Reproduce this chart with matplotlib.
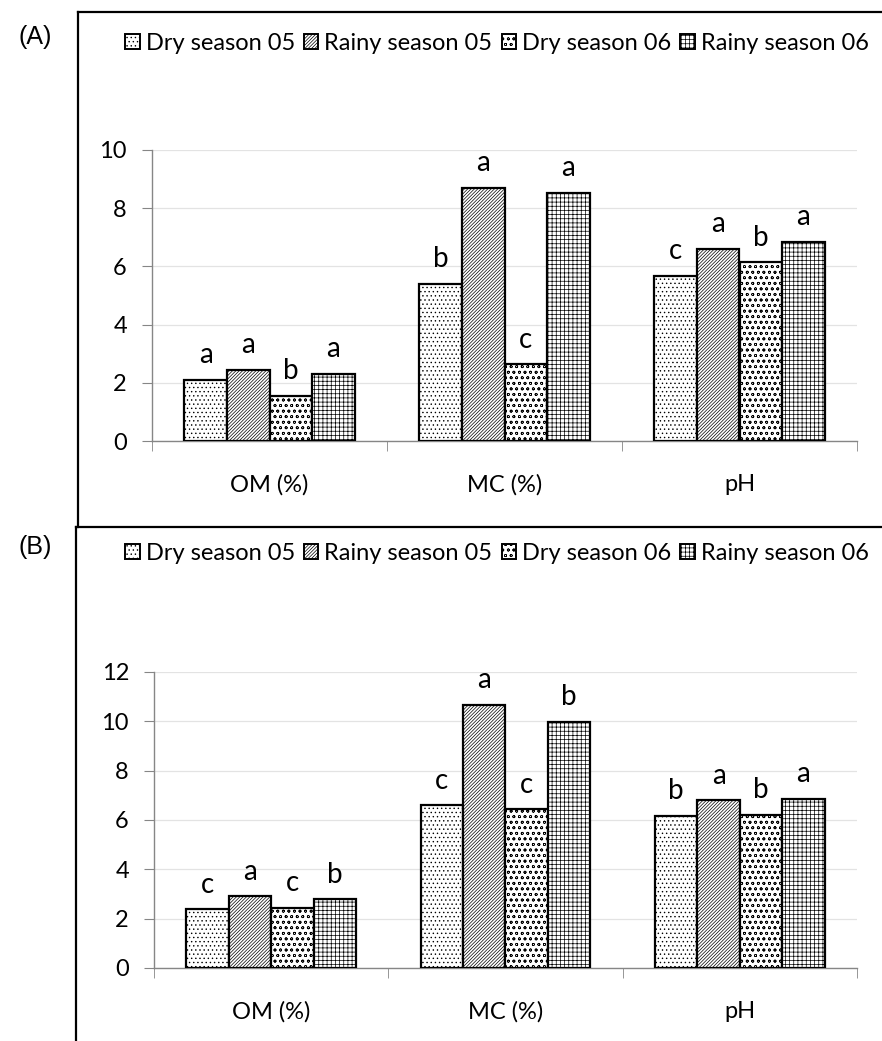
import numpy as np
import matplotlib.pyplot as plt
from matplotlib.lines import Line2D
from matplotlib.patches import Patch

plt.rcParams['font.family'] = ['Lato', 'DejaVu Sans']
plt.rcParams['hatch.linewidth'] = 0.5

params = ['OM (%)', 'MC (%)', 'pH']
seasons = ['Dry season 05', 'Rainy season 05', 'Dry season 06', 'Rainy season 06']
hatches = ['....', '//////////', 'ooo', '++++']

# (A) means per season, order OM, MC, pH
a_dry05 = [2.10, 5.40, 5.67]
a_rainy05 = [2.44, 8.70, 6.60]
a_dry06 = [1.56, 2.63, 6.14]
a_rainy06 = [2.30, 8.53, 6.85]
a_letters = [['a', 'b', 'c'], ['a', 'a', 'a'], ['b', 'c', 'b'], ['a', 'a', 'a']]

# (B)
b_dry05 = [2.38, 6.59, 6.17]
b_rainy05 = [2.91, 10.66, 6.80]
b_dry06 = [2.43, 6.43, 6.22]
b_rainy06 = [2.79, 9.98, 6.85]
b_letters = [['c', 'c', 'b'], ['a', 'a', 'a'], ['c', 'c', 'b'], ['b', 'b', 'a']]

W, H = 882, 1041
fig = plt.figure(figsize=(W / 100, H / 100), dpi=100)


def draw_panel(ax, series, letters, ymax):
    x = np.arange(len(params))
    w = 0.181
    for i, vals in enumerate(series):
        pos = x + (i - 1.5) * w
        ax.bar(pos, vals, w, color='white', edgecolor='black', linewidth=1.6,
               hatch=hatches[i], zorder=3)
        for px, v, lt in zip(pos, vals, letters[i]):
            ax.annotate(lt, (px, v), xytext=(0, 12), textcoords='offset points',
                        ha='center', va='baseline', fontsize=20)
    ax.set_xlim(-0.5, 2.5)
    ax.set_ylim(0, ymax)
    ax.set_yticks(np.arange(0, ymax + 1, 2))
    ax.yaxis.grid(True, color='#e3e3e3', linewidth=0.9, zorder=0)
    ax.set_axisbelow(True)
    for s in ['top', 'right']:
        ax.spines[s].set_visible(False)
    for s in ['left', 'bottom']:
        ax.spines[s].set_color('#868686')
        ax.spines[s].set_linewidth(1.0)
    ax.set_xticks(x)
    ax.set_xticklabels(params, fontsize=17)
    ax.set_xticks(np.arange(-0.5, 3, 1), minor=True)
    ax.tick_params(axis='x', which='major', length=0, pad=24)
    ax.tick_params(axis='x', which='minor', length=7, color='#868686')
    ax.tick_params(axis='y', length=7, color='#868686', pad=11, labelsize=17)


ax_a = fig.add_axes([152 / W, 1 - 441 / H, 705 / W, 291 / H])
draw_panel(ax_a, [a_dry05, a_rainy05, a_dry06, a_rainy06], a_letters, 10)

ax_b = fig.add_axes([154 / W, 1 - 968 / H, 703 / W, 296 / H])
draw_panel(ax_b, [b_dry05, b_rainy05, b_dry06, b_rainy06], b_letters, 12)

handles = [Patch(facecolor='white', edgecolor='black', linewidth=1.4, hatch=h)
           for h in hatches]
for yc in [43, 553]:
    fig.legend(handles, seasons, loc='center', bbox_to_anchor=(497 / W, 1 - yc / H),
               ncol=4, frameon=False, fontsize=17, handlelength=0.6,
               handleheight=0.6, handletextpad=0.25, columnspacing=0.4)

# panel frames
def fig_line(x0, y0, x1, y1):
    fig.add_artist(Line2D([x0 / W, x1 / W], [1 - y0 / H, 1 - y1 / H],
                          color='black', linewidth=1.6))

fig_line(78, 12, 78, 527)
fig_line(78, 12, W, 12)
fig_line(76, 527, W, 527)
fig_line(76, 527, 76, H)

fig.text(35 / W, 1 - 37 / H, '(A)', ha='center', va='center', fontsize=18,
         family='Liberation Sans')
fig.text(35 / W, 1 - 547 / H, '(B)', ha='center', va='center', fontsize=18,
         family='Liberation Sans')

fig.savefig('out.png', dpi=100)
